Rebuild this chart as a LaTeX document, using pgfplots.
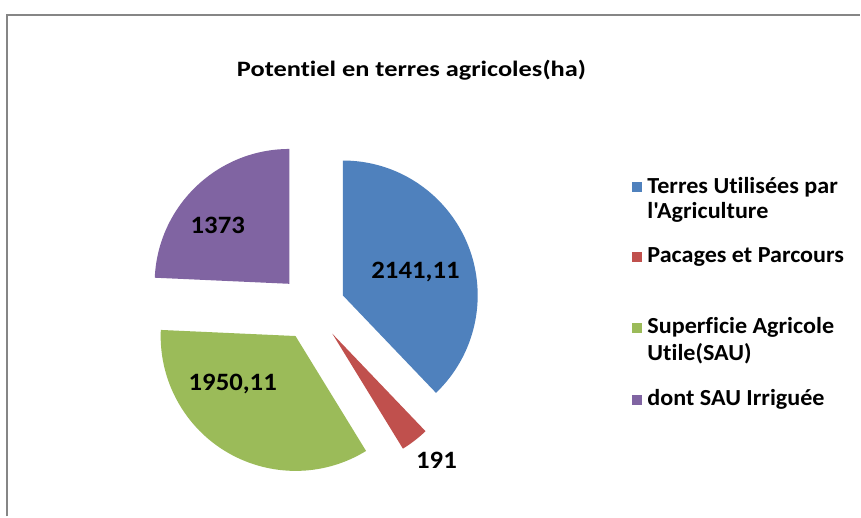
\documentclass[border=0pt]{standalone}
\usepackage{pgfplots}
\pgfplotsset{compat=1.18}
\usepackage{pgfplotstable}
\usepackage{fontspec}
\setmainfont{Carlito}[Ligatures={ResetAll,NoCommon}]
\newfontfamily\carl{Carlito}[Ligatures=NoCommon]
\definecolor{cBlue}{RGB}{79,129,189}
\definecolor{cRed}{RGB}{192,80,77}
\definecolor{cGreen}{RGB}{155,187,89}
\definecolor{cPurple}{RGB}{128,100,162}
\definecolor{cFrame}{RGB}{134,134,134}

\pgfplotstableread{
idx value
0 2141.11
1 191
2 1950.11
3 1373
}\piedata

\pgfplotstablegetelem{0}{value}\of\piedata \let\vA\pgfplotsretval
\pgfplotstablegetelem{1}{value}\of\piedata \let\vB\pgfplotsretval
\pgfplotstablegetelem{2}{value}\of\piedata \let\vC\pgfplotsretval
\pgfplotstablegetelem{3}{value}\of\piedata \let\vD\pgfplotsretval
\pgfmathsetmacro\tot{\vA+\vB+\vC+\vD}
\pgfmathsetmacro\aS{90}
\pgfmathsetmacro\aA{\aS-360*(\vA/\tot)}
\pgfmathsetmacro\aB{\aA-360*(\vB/\tot)}
\pgfmathsetmacro\aC{\aB-360*(\vC/\tot)}
\pgfmathsetmacro\aD{\aC-360*(\vD/\tot)}
\def\cx{312.6}
\def\cy{209}
\def\R{135}
\def\ex{33}
% slice centers
\pgfmathsetmacro\mA{(\aS+\aA)/2}
\pgfmathsetmacro\mB{(\aA+\aB)/2}
\pgfmathsetmacro\mC{(\aB+\aC)/2}
\pgfmathsetmacro\mD{(\aC+\aD)/2}
\pgfmathsetmacro\xA{\cx+\ex*cos(\mA)}\pgfmathsetmacro\yA{\cy+\ex*sin(\mA)}
\pgfmathsetmacro\xB{\cx+\ex*cos(\mB)}\pgfmathsetmacro\yB{\cy+\ex*sin(\mB)}
\pgfmathsetmacro\xC{\cx+\ex*cos(\mC)}\pgfmathsetmacro\yC{\cy+\ex*sin(\mC)}
\pgfmathsetmacro\xD{\cx+\ex*cos(\mD)}\pgfmathsetmacro\yD{\cy+\ex*sin(\mD)}

\newcommand\lab[1]{\scalebox{1.07}[1]{\carl\bfseries\fontsize{25}{28}\selectfont #1}}
\newcommand\leg[1]{\scalebox{1.05}[1]{\carl\bfseries\fontsize{23}{26}\selectfont #1}}

\begin{document}
\begin{tikzpicture}
\begin{axis}[x=1pt,y=1pt,xmin=0,xmax=861,ymin=0,ymax=517,hide axis,clip=false,
  axis line style={draw=none}]
\fill[white] (axis cs:0,0) rectangle (axis cs:861,517);
\draw[cFrame,line width=2pt] (axis cs:7.5,0) -- (axis cs:7.5,501.5) -- (axis cs:861,501.5);
% slices
\fill[cBlue] (axis cs:\xA,\yA) -- ++(\aS:\R pt) arc[start angle=\aS,end angle=\aA,radius=\R pt] -- cycle;
\fill[cRed] (axis cs:\xB,\yB) -- ++(\aA:\R pt) arc[start angle=\aA,end angle=\aB,radius=\R pt] -- cycle;
\fill[cGreen] (axis cs:\xC,\yC) -- ++(\aB:\R pt) arc[start angle=\aB,end angle=\aC,radius=\R pt] -- cycle;
\fill[cPurple] (axis cs:\xD,\yD) -- ++(\aC:\R pt) arc[start angle=\aC,end angle=\aD,radius=\R pt] -- cycle;
% title
\node at (axis cs:412,447) {\scalebox{1.2}[1]{\carl\bfseries\fontsize{22}{24}\selectfont Potentiel en terres agricoles(ha)}};
% data labels
\node at (axis cs:416,245) {\lab{2141,11}};
\node at (axis cs:218,291) {\lab{1373}};
\node at (axis cs:233,133) {\lab{1950,11}};
\node at (axis cs:437,56) {\lab{191}};
% legend
\fill[cBlue] (axis cs:633,325) rectangle (axis cs:643,335);
\fill[cRed] (axis cs:633,255) rectangle (axis cs:643,265);
\fill[cGreen] (axis cs:633,184) rectangle (axis cs:643,194);
\fill[cPurple] (axis cs:633,112) rectangle (axis cs:643,122);
\node[anchor=west,inner sep=0pt] at (axis cs:648,330) {\leg{Terres Utilisées par}};
\node[anchor=west,inner sep=0pt] at (axis cs:648,304) {\leg{l'Agriculture}};
\node[anchor=west,inner sep=0pt] at (axis cs:648,260) {\leg{Pacages et Parcours}};
\node[anchor=west,inner sep=0pt] at (axis cs:648,189) {\leg{Superficie Agricole}};
\node[anchor=west,inner sep=0pt] at (axis cs:648,163) {\leg{Utile(SAU)}};
\node[anchor=west,inner sep=0pt] at (axis cs:648,117) {\leg{dont SAU Irriguée}};
\end{axis}
\end{tikzpicture}
\end{document}
